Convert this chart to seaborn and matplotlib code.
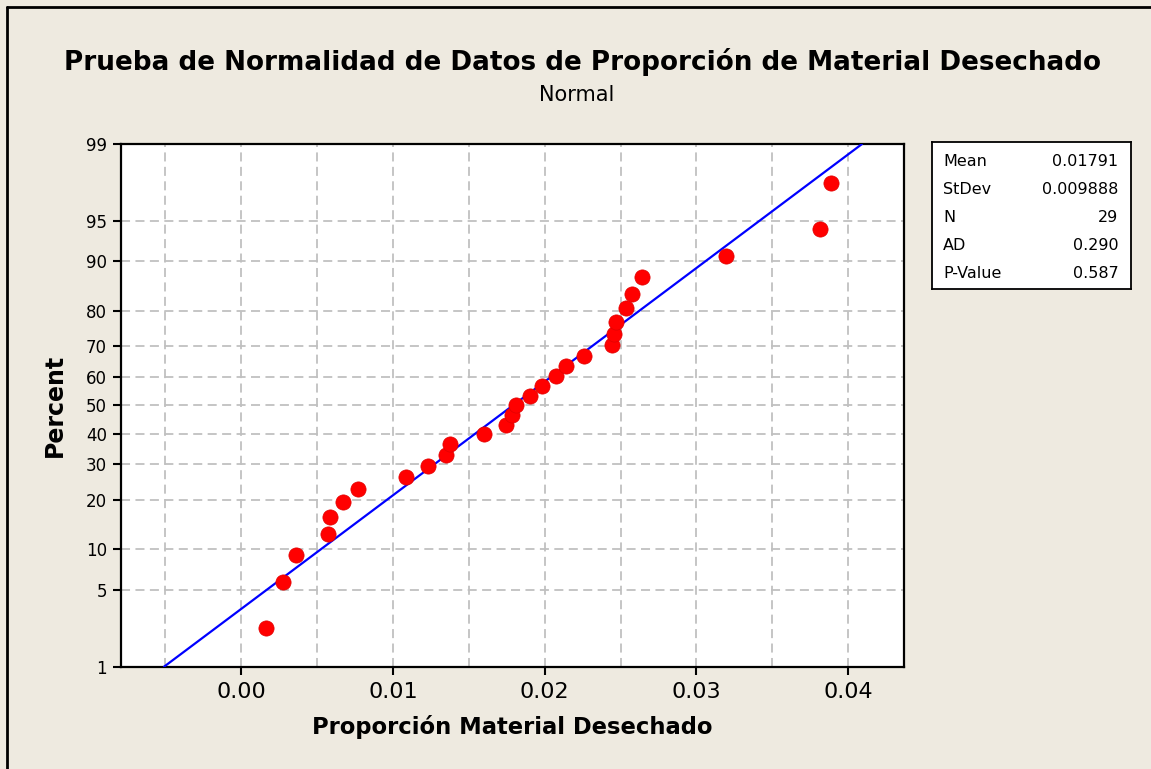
import math
import numpy as np
import pandas as pd
import matplotlib
matplotlib.use("Agg")
import matplotlib.pyplot as plt
import seaborn as sns
from matplotlib.lines import Line2D
from matplotlib.ticker import NullLocator, FixedLocator

# ---------------- data ----------------
proportion = [0.00163, 0.00272, 0.00361, 0.00574, 0.00587, 0.00668, 0.00769,
              0.01086, 0.01231, 0.01350, 0.01376, 0.01600, 0.01743, 0.01786,
              0.01811, 0.01903, 0.01983, 0.02077, 0.02141, 0.02260, 0.02444,
              0.02457, 0.02470, 0.02536, 0.02576, 0.02642, 0.03196, 0.03816,
              0.03884]
percent = [2.38, 5.78, 9.18, 12.59, 15.99, 19.39, 22.79, 26.19, 29.59, 32.99,
           36.39, 39.80, 43.20, 46.60, 50.00, 53.40, 56.80, 60.20, 63.61,
           67.01, 70.41, 73.81, 77.21, 80.61, 84.01, 87.41, 90.82, 94.22,
           97.62]

stat_labels = ["Mean", "StDev", "N", "AD", "P-Value"]
stat_values = ["0.01791", "0.009888", "29", "0.290", "0.587"]
mean_val = 0.01791
sd_val = 0.009888
line_percent = [1, 99]

y_ticks = [1, 5, 10, 20, 30, 40, 50, 60, 70, 80, 90, 95, 99]
x_ticks = [0.00, 0.01, 0.02, 0.03, 0.04]
x_grid = [-0.005, 0.005, 0.015, 0.025, 0.035]


# ---------------- normal probability scale ----------------
_a = [-3.969683028665376e+01, 2.209460984245205e+02, -2.759285104469687e+02,
      1.383577518672690e+02, -3.066479806614716e+01, 2.506628277459239e+00]
_b = [-5.447609879822406e+01, 1.615858368580409e+02, -1.556989798598866e+02,
      6.680131188771972e+01, -1.328068155288572e+01]
_c = [-7.784894002430293e-03, -3.223964580411365e-01, -2.400758277161838e+00,
      -2.549732539343734e+00, 4.374664141464968e+00, 2.938163982698783e+00]
_d = [7.784695709041462e-03, 3.224671290700398e-01, 2.445134137142996e+00,
      3.754408661907416e+00]


def norm_ppf(p):
    p = np.clip(np.asarray(p, dtype=float), 1e-12, 1 - 1e-12)
    plow = 0.02425
    out = np.empty_like(p)
    lo = p < plow
    hi = p > 1 - plow
    mid = ~(lo | hi)
    q = np.sqrt(-2 * np.log(p[lo]))
    out[lo] = ((((((_c[0]*q+_c[1])*q+_c[2])*q+_c[3])*q+_c[4])*q+_c[5]) /
               ((((_d[0]*q+_d[1])*q+_d[2])*q+_d[3])*q+1))
    q = np.sqrt(-2 * np.log(1 - p[hi]))
    out[hi] = -((((((_c[0]*q+_c[1])*q+_c[2])*q+_c[3])*q+_c[4])*q+_c[5]) /
                ((((_d[0]*q+_d[1])*q+_d[2])*q+_d[3])*q+1))
    q = p[mid] - 0.5
    r = q * q
    out[mid] = ((((((_a[0]*r+_a[1])*r+_a[2])*r+_a[3])*r+_a[4])*r+_a[5])*q /
                (((((_b[0]*r+_b[1])*r+_b[2])*r+_b[3])*r+_b[4])*r+1))
    return out


_erf = np.vectorize(math.erf)


def fwd(pct):
    return norm_ppf(np.asarray(pct, dtype=float) / 100.0)


def inv(z):
    z = np.asarray(z, dtype=float)
    return 100.0 * 0.5 * (1 + _erf(z / math.sqrt(2)))


# ---------------- figure ----------------
sns.set_theme(style="white")
plt.rcParams["font.family"] = ["DejaVu Sans"]

BG = "#EEEAE0"
W, H = 1151, 769
fig = plt.figure(figsize=(W / 100, H / 100), dpi=100, facecolor=BG)

left, right, top, bottom = 120.7, 904.3, 144.0, 666.7
ax = fig.add_axes([left / W, 1 - bottom / H, (right - left) / W, (bottom - top) / H])
ax.set_facecolor("white")

# fitted line from mean / stdev
line_df = pd.DataFrame({
    "x": [mean_val + sd_val * float(fwd([p])[0]) for p in line_percent],
    "y": line_percent,
})
pts_df = pd.DataFrame({"x": proportion, "y": percent})

sns.lineplot(data=line_df, x="x", y="y", ax=ax, color="#0000FF", lw=1.6,
             sort=False, estimator=None, zorder=3)
sns.scatterplot(data=pts_df, x="x", y="y", ax=ax, color="#FF0000", s=120,
                edgecolor="#E00000", linewidth=0.5, zorder=4)

ax.set_yscale("function", functions=(fwd, inv))
ax.set_ylim(1, 99)
ax.set_xlim(-0.00795, 0.0437)

ax.yaxis.set_major_locator(FixedLocator(y_ticks))
ax.yaxis.set_minor_locator(NullLocator())
ax.set_yticklabels([str(t) for t in y_ticks])
ax.set_xticks(x_ticks)
ax.set_xticklabels([f"{t:.2f}" for t in x_ticks])
ax.xaxis.set_minor_locator(FixedLocator(x_grid))

grid_kw = dict(color="#C0C0C0", linestyle=(0, (5, 3)), linewidth=1.3)
ax.grid(True, which="major", axis="both", **grid_kw)
ax.grid(True, which="minor", axis="x", **grid_kw)
ax.set_axisbelow(True)

for s in ax.spines.values():
    s.set_color("black")
    s.set_linewidth(1.6)
    s.set_visible(True)

ax.tick_params(axis="x", which="major", direction="out", length=6, width=1.5,
               labelsize=16, pad=5, bottom=True, colors="black")
ax.tick_params(axis="x", which="minor", length=0)
ax.tick_params(axis="y", which="major", direction="out", length=6, width=1.5,
               labelsize=12, pad=4, left=True, colors="black")

ax.set_xlabel("Proporción Material Desechado", fontsize=16.3, fontweight="bold",
              va="center", color="black")
ax.xaxis.set_label_coords(0.5, (bottom - 727) / (bottom - top))
ax.set_ylabel("Percent", fontsize=17, fontweight="bold", va="center",
              color="black")
ax.yaxis.set_label_coords((55 - left) / (right - left), 0.5)

fig.text(582 / W, 1 - 62 / H,
         "Prueba de Normalidad de Datos de Proporción de Material Desechado",
         ha="center", va="center", fontsize=18.9, fontweight="bold", color="black")
fig.text(577 / W, 1 - 95 / H, "Normal", ha="center", va="center",
         fontsize=15, color="black")

# statistics box
bx0, bx1, by0, by1 = 932.3, 1130.7, 142.3, 289.3
bax = fig.add_axes([bx0 / W, 1 - by1 / H, (bx1 - bx0) / W, (by1 - by0) / H])
bax.set_facecolor("white")
bax.set_xticks([])
bax.set_yticks([])
for s in bax.spines.values():
    s.set_color("black")
    s.set_linewidth(1.3)
    s.set_visible(True)
row_y = [161.7, 189.5, 217.5, 246.0, 274.0]
for lab, val, ry in zip(stat_labels, stat_values, row_y):
    fy = 1 - (ry - by0) / (by1 - by0)
    bax.text((943 - bx0) / (bx1 - bx0), fy, lab, ha="left", va="center",
             fontsize=11.5, color="black", transform=bax.transAxes)
    bax.text((1118.5 - bx0) / (bx1 - bx0), fy, val, ha="right", va="center",
             fontsize=11.5, color="black", transform=bax.transAxes)

# outer frame (left and top edges visible in the reference)
fig.add_artist(Line2D([7 / W, 7 / W], [0, 1 - 7 / H], color="black", lw=2,
                      transform=fig.transFigure))
fig.add_artist(Line2D([7 / W, 1], [1 - 7 / H, 1 - 7 / H], color="black", lw=2,
                      transform=fig.transFigure))

fig.savefig("out.png", dpi=100, facecolor=BG)
